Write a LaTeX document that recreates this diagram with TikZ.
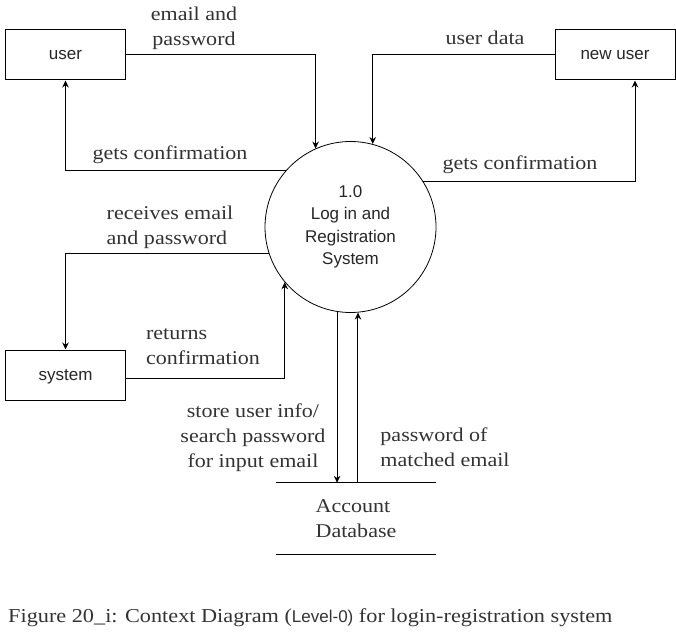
\documentclass[tikz,border=0pt]{standalone}
\usepackage{fontspec}
\setmainfont[FakeStretch=1.13]{Liberation Serif}
\newfontfamily\boxfont{Liberation Sans}
\usetikzlibrary{arrows.meta,calc}
\definecolor{txt}{HTML}{333333}
\tikzset{
  ent/.style={draw,line width=1pt,minimum width=120pt,minimum height=50pt,inner sep=0pt,font=\boxfont\fontsize{17}{20}\selectfont,text=black!85,text depth=0pt},
  proc/.style={draw,line width=0.8pt,circle,minimum size=171pt,inner sep=0pt,align=center,font=\boxfont\fontsize{17}{22.5}\selectfont,text=black!85},
  flow/.style={line width=1pt,-{Stealth[length=7pt,width=6.5pt]}},
  lbl/.style={inner sep=0pt,text=txt,font=\fontsize{19.5}{25}\selectfont,yshift=-2pt},
}
\begin{document}
\begin{tikzpicture}[x=1pt,y=-1pt]
\useasboundingbox[fill=white] (0,0) rectangle (676,631);
\node[ent] (user) at (65.5,55) {user};
\node[ent] (nu) at (615,55) {new user};
\node[ent] (sys) at (65.5,375) {system};
\node[proc] (c) at (350.5,227) {1.0\\Log in and\\Registration\\System};
\node[minimum width=160pt,minimum height=71pt,inner sep=0pt,align=left,text=txt,font=\fontsize{19.5}{25}\selectfont] (db) at (356,518.5) {\raisebox{-2pt}{Account}\\\raisebox{-2pt}{Database}};
\draw[line width=1pt] (db.north west) -- (db.north east);
\draw[line width=1pt] (db.south west) -- (db.south east);
\coordinate (nuin) at ($(nu.south)+(20,0)$);
\coordinate (sysout) at ($(sys.east)+(0,3)$);
\draw[flow] (user.east) -| (c.114);
\draw[flow] (c.139) -| (user.south);
\draw[flow] (nu.west) -| (c.75);
\draw[flow] (c.32) -| (nuin);
\draw[flow] (c.198) -| (sys.north);
\draw[flow] (sysout) -| (c.220);
\draw[flow] (c.261) -- (c.261 |- db.north);
\draw[flow] (c.275 |- db.north) -- (c.275);
\node[lbl,align=center] (l1) at (194,26) {email and\\password};
\node[lbl] (l2) at (170,153) {gets confirmation};
\node[lbl] (l3) at (485,36) {user data};
\node[lbl] (l4) at (520,163) {gets confirmation};
\node[lbl,align=left] (l5) at (170,225) {receives email\\and password};
\node[lbl,align=left] (l6) at (203,345) {returns\\confirmation};
\node[lbl,align=center] (l7) at (253,436) {store user info/\\search password\\for input email};
\node[lbl,align=left] (l8) at (445,445) {password of\\matched email};
\node[lbl,anchor=west,text=black!80,font=\fontsize{19.7}{25}\selectfont] (cap) at (8,616) {Figure 20\_i: Context Diagram ({\boxfont\fontsize{17}{20}\selectfont Level-0)} for login-registration system};
\end{tikzpicture}
\end{document}
